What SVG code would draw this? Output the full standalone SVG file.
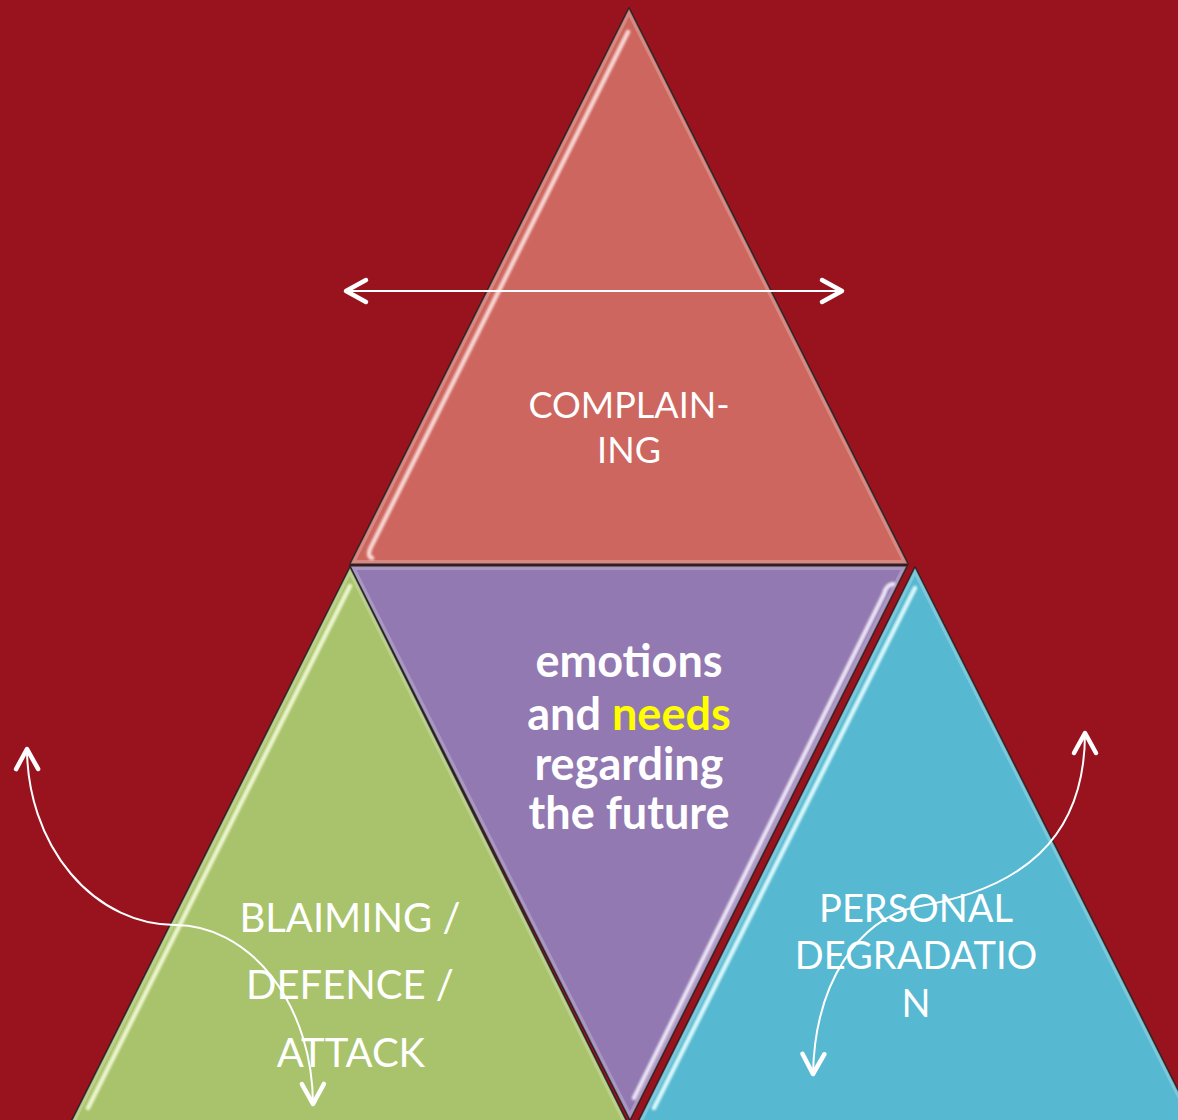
<svg xmlns="http://www.w3.org/2000/svg" width="1178" height="1120" viewBox="0 0 1178 1120">
  <style>
    .edge { stroke: #1c1c1c; stroke-width: 1.6; stroke-linejoin: round; }
    .rim { fill: none; stroke: #ffffff; stroke-opacity: 0.22; stroke-width: 8; }
    .hl { fill: none; stroke-width: 4.5; stroke-linecap: round; filter: url(#soft); }
    .lbl { font-family: Lato, "Liberation Sans", sans-serif; fill: #ffffff; text-anchor: middle; }
    .conn { fill: none; stroke: #ffffff; stroke-width: 2; }
  </style>
  <defs>
    <filter id="soft" x="-20%" y="-20%" width="140%" height="140%">
      <feGaussianBlur stdDeviation="0.9"/>
    </filter>
    <marker id="chev" markerUnits="userSpaceOnUse" viewBox="-26 -16 32 32" refX="0" refY="0" markerWidth="32" markerHeight="32" orient="auto-start-reverse">
      <path d="M-20,-11 L0,0 L-20,11" fill="none" stroke="#ffffff" stroke-width="4.5" stroke-linecap="round" stroke-linejoin="round"/>
    </marker>
    <clipPath id="cTop"><polygon points="629,8 908,564 350,564"/></clipPath>
    <clipPath id="cMid"><polygon points="350,566 907,566 630,1120"/></clipPath>
    <clipPath id="cGreen"><polygon points="350,567 628,1124 70,1124"/></clipPath>
    <clipPath id="cBlue"><polygon points="915,567 1195,1124 637,1124"/></clipPath>
  </defs>

  <rect width="1178" height="1120" fill="#99131f"/>

  <g id="complaining">
    <polygon class="edge" points="629,8 908,564 350,564" fill="#cd665e"/>
    <polygon class="rim" clip-path="url(#cTop)" points="629,8 908,564 350,564"/>
    <path class="hl" d="M628,32 L372,545 Q366,556 372,558" stroke="#ffe9e6" stroke-opacity="0.85"/>
    <text class="lbl" font-size="36"><tspan x="629" y="418">COMPLAIN-</tspan><tspan x="629" y="463">ING</tspan></text>
  </g>

  <g id="emotions-needs">
    <polygon class="edge" points="350,566 907,566 630,1120" fill="#9279b1"/>
    <polygon class="rim" clip-path="url(#cMid)" points="350,566 907,566 630,1120"/>
    <path class="hl" d="M893,584 Q886,585 884,594 L634,1098" stroke="#f6eefc" stroke-opacity="0.9" stroke-width="5.5"/>
    <text class="lbl" font-size="45" font-weight="bold"><tspan x="629" y="677">emotions</tspan><tspan x="629" y="730">and <tspan fill="#ffff00">needs</tspan></tspan><tspan x="629" y="780">regarding</tspan><tspan x="629" y="829">the future</tspan></text>
  </g>

  <g id="blaiming">
    <polygon class="edge" points="350,567 628,1124 70,1124" fill="#a8c36b"/>
    <polygon class="rim" clip-path="url(#cGreen)" points="350,567 628,1124 70,1124"/>
    <path class="hl" d="M350,586 L88,1108" stroke="#f4fbd8" stroke-opacity="0.9"/>
    <text class="lbl" font-size="40"><tspan x="350" y="932">BLAIMING /</tspan><tspan x="350" y="999">DEFENCE /</tspan><tspan x="351" y="1067">ATTACK</tspan></text>
  </g>

  <g id="personal-degradation">
    <polygon class="edge" points="915,567 1195,1124 637,1124" fill="#57b8d1"/>
    <polygon class="rim" clip-path="url(#cBlue)" points="915,567 1195,1124 637,1124"/>
    <path class="hl" d="M915,588 L654,1108" stroke="#e6ffff" stroke-opacity="0.9"/>
    <text class="lbl" font-size="38"><tspan x="916" y="922">PERSONAL</tspan><tspan x="916" y="969">DEGRADATIO</tspan><tspan x="916" y="1017">N</tspan></text>
  </g>

  <g id="connectors">
    <path class="conn" d="M346,291 L842,291" marker-start="url(#chev)" marker-end="url(#chev)"/>
    <path class="conn" d="M27,749 A148,177 0 0 0 175,925 A138,180 0 0 1 313,1104" marker-start="url(#chev)" marker-end="url(#chev)"/>
    <path class="conn" d="M1085,733 C1085,840 1020,890 915,907 C860,920 815,980 813,1074" marker-start="url(#chev)" marker-end="url(#chev)"/>
  </g>
</svg>
